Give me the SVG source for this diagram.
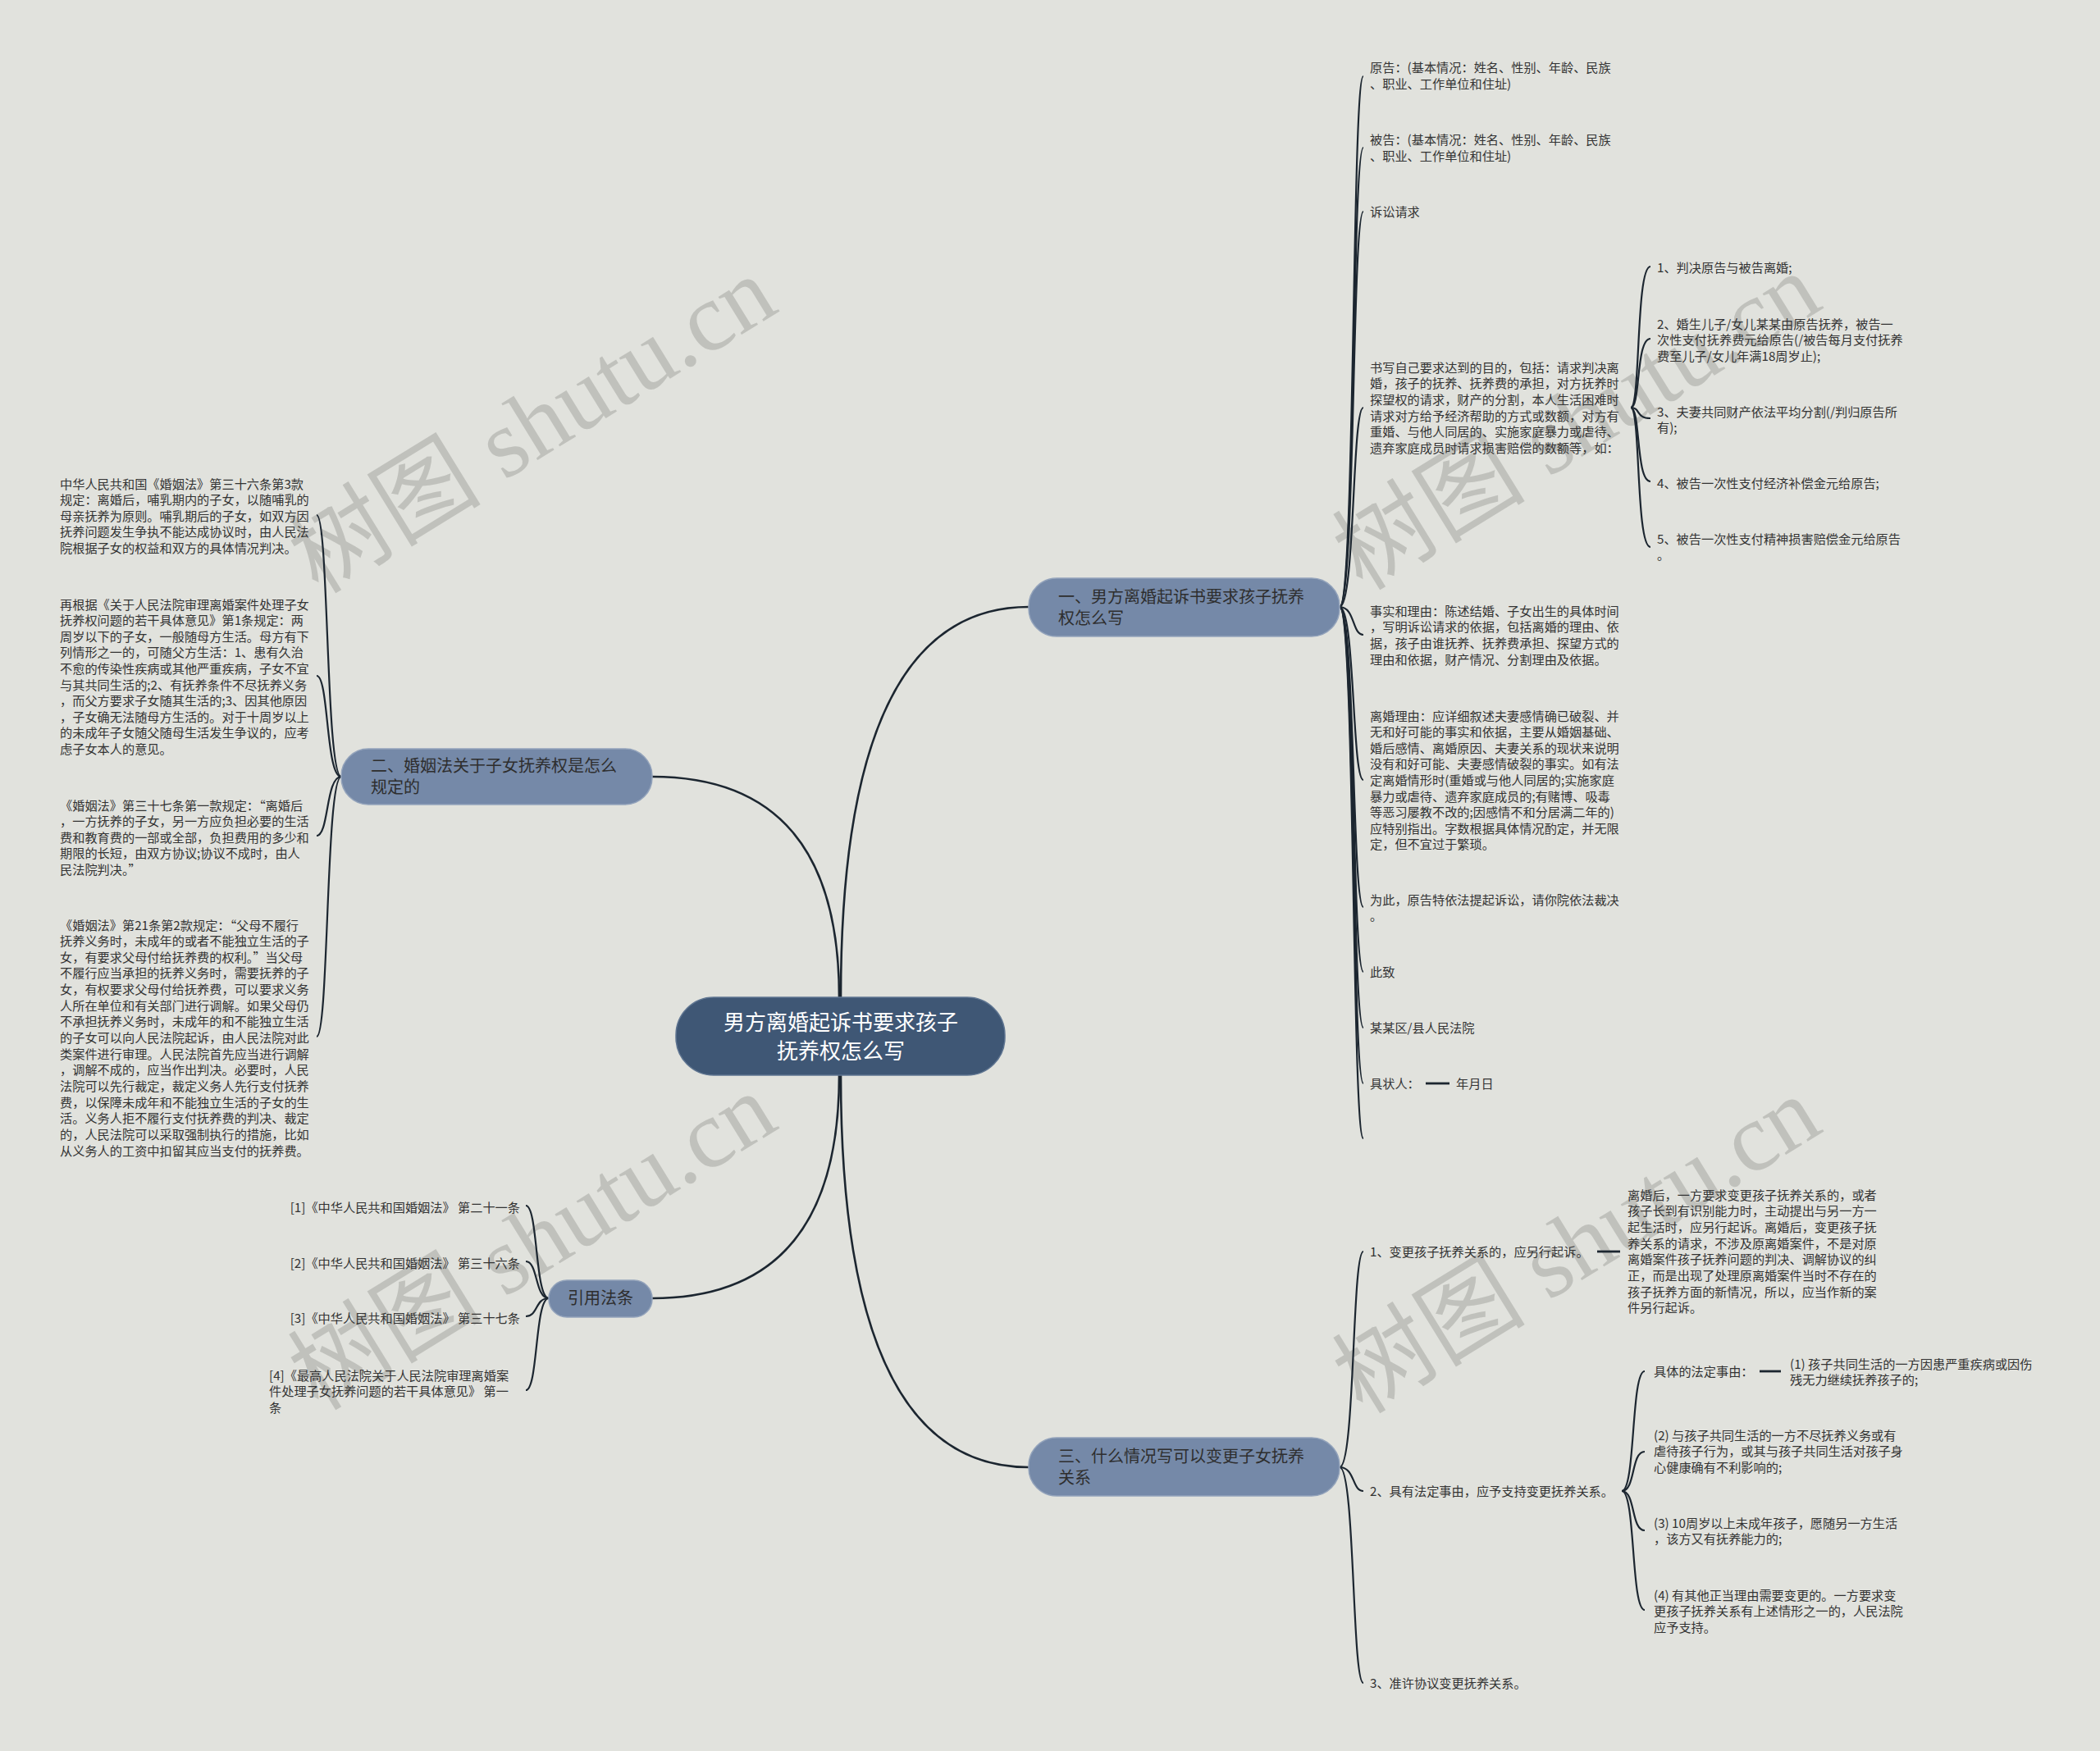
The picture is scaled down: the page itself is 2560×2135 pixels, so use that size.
<svg xmlns="http://www.w3.org/2000/svg" width="2560" height="2135" viewBox="0 0 2560 2135">
<style>
.bg{fill:#e1e2dd}
.wm{font-family:"Liberation Serif","Noto Sans CJK SC",serif;font-size:118px;fill:#b9bab5;opacity:0.8}
.root rect{fill:#3f5775;stroke:#5f7591;stroke-width:1.5}
.root text{font-family:"Noto Sans CJK SC","Liberation Sans",sans-serif;font-size:26px;fill:#ffffff;text-anchor:middle}
.br rect{fill:#7589a8;stroke:#93a3bb;stroke-width:1.5}
.br text{font-family:"Noto Sans CJK SC","Liberation Sans",sans-serif;font-size:20px;fill:#2e2e2e}
.lf text{font-family:"Noto Sans CJK SC","Liberation Sans",sans-serif;font-size:15.2px;fill:#333333}
.c1{fill:none;stroke:#1c2630;stroke-width:2.6}
.c2{fill:none;stroke:#1c2630;stroke-width:2.2}
.st{fill:none;stroke:#1c2630;stroke-width:2.8}
</style>
<rect class="bg" x="0" y="0" width="2560" height="2135"/>

<g id="watermarks">
<text class="wm" x="649" y="518" dy="40" text-anchor="middle" transform="rotate(-31.6 649 518)">树图 shutu.cn</text>
<text class="wm" x="1922" y="514" dy="40" text-anchor="middle" transform="rotate(-31.6 1922 514)">树图 shutu.cn</text>
<text class="wm" x="649" y="1514" dy="40" text-anchor="middle" transform="rotate(-31.6 649 1514)">树图 shutu.cn</text>
<text class="wm" x="1922" y="1518" dy="40" text-anchor="middle" transform="rotate(-31.6 1922 1518)">树图 shutu.cn</text>
</g>

<g id="connectors">
<path class="c1" d="M1025,1216 Q1025,740 1254,740"/>
<path class="c1" d="M1023,1216 Q1023,947 795,947"/>
<path class="c1" d="M1025,1311 Q1025,1789 1254,1789"/>
<path class="c1" d="M1023,1311 Q1023,1583 795,1583"/>
<path class="c2" d="M1633,740 C1652,740 1648,93 1662,93"/>
<path class="c2" d="M1633,740 C1652,740 1648,180 1662,180"/>
<path class="c2" d="M1633,740 C1652,740 1648,258 1662,258"/>
<path class="c2" d="M1633,740 C1652,740 1648,497 1662,497"/>
<path class="c2" d="M1633,740 C1652,740 1648,774 1662,774"/>
<path class="c2" d="M1633,740 C1652,740 1648,951 1662,951"/>
<path class="c2" d="M1633,740 C1652,740 1648,1106 1662,1106"/>
<path class="c2" d="M1633,740 C1652,740 1648,1185 1662,1185"/>
<path class="c2" d="M1633,740 C1652,740 1648,1253 1662,1253"/>
<path class="c2" d="M1633,740 C1652,740 1648,1321 1662,1321"/>
<path class="c2" d="M1633,740 C1652,740 1648,1388 1662,1388"/>
<path class="c2" d="M1988,497 C2000,497 1994,325 2012,325"/>
<path class="c2" d="M1988,497 C2000,497 1994,413 2012,413"/>
<path class="c2" d="M1988,497 C2000,497 1994,510 2012,510"/>
<path class="c2" d="M1988,497 C2000,497 1994,587 2012,587"/>
<path class="c2" d="M1988,497 C2000,497 1994,667 2012,667"/>
<path class="st" d="M1738,1321 L1767,1321"/>
<path class="c2" d="M416,947 C397,947 401,628 386,628"/>
<path class="c2" d="M416,947 C397,947 401,824 386,824"/>
<path class="c2" d="M416,947 C397,947 401,1019 386,1019"/>
<path class="c2" d="M416,947 C397,947 401,1264 386,1264"/>
<path class="c2" d="M669,1583 C652,1583 656,1470 641,1470"/>
<path class="c2" d="M669,1583 C652,1583 656,1538 641,1538"/>
<path class="c2" d="M669,1583 C652,1583 656,1605 641,1605"/>
<path class="c2" d="M669,1583 C652,1583 656,1695 641,1695"/>
<path class="c2" d="M1633,1789 C1652,1789 1648,1526 1662,1526"/>
<path class="c2" d="M1633,1789 C1652,1789 1648,1818 1662,1818"/>
<path class="c2" d="M1633,1789 C1652,1789 1648,2052 1662,2052"/>
<path class="st" d="M1947,1526 L1975,1526"/>
<path class="c2" d="M1977,1818 C1994,1818 1988,1672 2005,1672"/>
<path class="c2" d="M1977,1818 C1994,1818 1988,1770 2005,1770"/>
<path class="c2" d="M1977,1818 C1994,1818 1988,1866 2005,1866"/>
<path class="c2" d="M1977,1818 C1994,1818 1988,1963 2005,1963"/>
<path class="st" d="M2145,1672 L2171,1672"/>
</g>

<g id="root" class="root">
<rect x="824" y="1216" width="401" height="95" rx="46"/>
<text x="1025" y="1256">男方离婚起诉书要求孩子<tspan x="1025" dy="35">抚养权怎么写</tspan></text>
</g>

<g id="branch1" class="br">
<rect x="1254" y="705" width="379" height="71" rx="34"/>
<text x="1290" y="735">一、男方离婚起诉书要求孩子抚养<tspan x="1290" dy="26">权怎么写</tspan></text>
</g>

<g id="branch2" class="br">
<rect x="416" y="913" width="379" height="68" rx="33"/>
<text x="452" y="941">二、婚姻法关于子女抚养权是怎么<tspan x="452" dy="26">规定的</tspan></text>
</g>

<g id="branch3" class="br">
<rect x="1254" y="1753" width="379" height="71" rx="34"/>
<text x="1290" y="1783">三、什么情况写可以变更子女抚养<tspan x="1290" dy="26">关系</tspan></text>
</g>

<g id="branch4" class="br">
<rect x="669" y="1561" width="126" height="45" rx="22"/>
<text x="732" y="1590" text-anchor="middle">引用法条</text>
</g>

<g id="b1-plaintiff" class="lf">
<text x="1670" y="88">原告：(基本情况：姓名、性别、年龄、民族<tspan x="1670" dy="19.6">、职业、工作单位和住址)</tspan></text>
</g>
<g id="b1-defendant" class="lf">
<text x="1670" y="176">被告：(基本情况：姓名、性别、年龄、民族<tspan x="1670" dy="19.6">、职业、工作单位和住址)</tspan></text>
</g>
<g id="b1-claims" class="lf">
<text x="1670" y="264">诉讼请求</text>
</g>
<g id="b1-write" class="lf">
<text x="1670" y="453.5">书写自己要求达到的目的，包括：请求判决离<tspan x="1670" dy="19.7">婚，孩子的抚养、抚养费的承担，对方抚养时</tspan><tspan x="1670" dy="19.7">探望权的请求，财产的分割，本人生活困难时</tspan><tspan x="1670" dy="19.7">请求对方给予经济帮助的方式或数额，对方有</tspan><tspan x="1670" dy="19.7">重婚、与他人同居的、实施家庭暴力或虐待、</tspan><tspan x="1670" dy="19.7">遗弃家庭成员时请求损害赔偿的数额等，如：</tspan></text>
</g>
<g id="b1-list1" class="lf">
<text x="2020" y="332">1、判决原告与被告离婚;</text>
</g>
<g id="b1-list2" class="lf">
<text x="2020" y="400.5">2、婚生儿子/女儿某某由原告抚养，被告一<tspan x="2020" dy="19.6">次性支付抚养费元给原告(/被告每月支付抚养</tspan><tspan x="2020" dy="19.6">费至儿子/女儿年满18周岁止);</tspan></text>
</g>
<g id="b1-list3" class="lf">
<text x="2020" y="507.5">3、夫妻共同财产依法平均分割(/判归原告所<tspan x="2020" dy="19.6">有);</tspan></text>
</g>
<g id="b1-list4" class="lf">
<text x="2020" y="594.5">4、被告一次性支付经济补偿金元给原告;</text>
</g>
<g id="b1-list5" class="lf">
<text x="2020" y="662.5">5、被告一次性支付精神损害赔偿金元给原告<tspan x="2020" dy="19.6">。</tspan></text>
</g>
<g id="b1-facts" class="lf">
<text x="1670" y="750.5">事实和理由：陈述结婚、子女出生的具体时间<tspan x="1670" dy="19.7">，写明诉讼请求的依据，包括离婚的理由、依</tspan><tspan x="1670" dy="19.7">据，孩子由谁抚养、抚养费承担、探望方式的</tspan><tspan x="1670" dy="19.7">理由和依据，财产情况、分割理由及依据。</tspan></text>
</g>
<g id="b1-reason" class="lf">
<text x="1670" y="878.5">离婚理由：应详细叙述夫妻感情确已破裂、并<tspan x="1670" dy="19.6">无和好可能的事实和依据，主要从婚姻基础、</tspan><tspan x="1670" dy="19.6">婚后感情、离婚原因、夫妻关系的现状来说明</tspan><tspan x="1670" dy="19.6">没有和好可能、夫妻感情破裂的事实。如有法</tspan><tspan x="1670" dy="19.6">定离婚情形时(重婚或与他人同居的;实施家庭</tspan><tspan x="1670" dy="19.6">暴力或虐待、遗弃家庭成员的;有赌博、吸毒</tspan><tspan x="1670" dy="19.6">等恶习屡教不改的;因感情不和分居满二年的)</tspan><tspan x="1670" dy="19.6">应特别指出。字数根据具体情况酌定，并无限</tspan><tspan x="1670" dy="19.6">定，但不宜过于繁琐。</tspan></text>
</g>
<g id="b1-hence" class="lf">
<text x="1670" y="1102.5">为此，原告特依法提起诉讼，请你院依法裁决<tspan x="1670" dy="19.6">。</tspan></text>
</g>
<g id="b1-greet" class="lf">
<text x="1670" y="1190.5">此致</text>
</g>
<g id="b1-court" class="lf">
<text x="1670" y="1258.5">某某区/县人民法院</text>
</g>
<g id="b1-signer" class="lf">
<text x="1670" y="1326.5">具状人：</text>
</g>
<g id="b1-date" class="lf">
<text x="1775" y="1326.5">年月日</text>
</g>

<g id="b2-c1" class="lf">
<text x="73" y="595.5">中华人民共和国《婚姻法》第三十六条第3款<tspan x="73" dy="19.6">规定：离婚后，哺乳期内的子女，以随哺乳的</tspan><tspan x="73" dy="19.6">母亲抚养为原则。哺乳期后的子女，如双方因</tspan><tspan x="73" dy="19.6">抚养问题发生争执不能达成协议时，由人民法</tspan><tspan x="73" dy="19.6">院根据子女的权益和双方的具体情况判决。</tspan></text>
</g>
<g id="b2-c2" class="lf">
<text x="73" y="742.5">再根据《关于人民法院审理离婚案件处理子女<tspan x="73" dy="19.6">抚养权问题的若干具体意见》第1条规定：两</tspan><tspan x="73" dy="19.6">周岁以下的子女，一般随母方生活。母方有下</tspan><tspan x="73" dy="19.6">列情形之一的，可随父方生活：1、患有久治</tspan><tspan x="73" dy="19.6">不愈的传染性疾病或其他严重疾病，子女不宜</tspan><tspan x="73" dy="19.6">与其共同生活的;2、有抚养条件不尽抚养义务</tspan><tspan x="73" dy="19.6">，而父方要求子女随其生活的;3、因其他原因</tspan><tspan x="73" dy="19.6">，子女确无法随母方生活的。对于十周岁以上</tspan><tspan x="73" dy="19.6">的未成年子女随父随母生活发生争议的，应考</tspan><tspan x="73" dy="19.6">虑子女本人的意见。</tspan></text>
</g>
<g id="b2-c3" class="lf">
<text x="73" y="987.5">《婚姻法》第三十七条第一款规定：“离婚后<tspan x="73" dy="19.6">，一方抚养的子女，另一方应负担必要的生活</tspan><tspan x="73" dy="19.6">费和教育费的一部或全部，负担费用的多少和</tspan><tspan x="73" dy="19.6">期限的长短，由双方协议;协议不成时，由人</tspan><tspan x="73" dy="19.6">民法院判决。”</tspan></text>
</g>
<g id="b2-c4" class="lf">
<text x="73" y="1133.5">《婚姻法》第21条第2款规定：“父母不履行<tspan x="73" dy="19.65">抚养义务时，未成年的或者不能独立生活的子</tspan><tspan x="73" dy="19.65">女，有要求父母付给抚养费的权利。”当父母</tspan><tspan x="73" dy="19.65">不履行应当承担的抚养义务时，需要抚养的子</tspan><tspan x="73" dy="19.65">女，有权要求父母付给抚养费，可以要求义务</tspan><tspan x="73" dy="19.65">人所在单位和有关部门进行调解。如果父母仍</tspan><tspan x="73" dy="19.65">不承担抚养义务时，未成年的和不能独立生活</tspan><tspan x="73" dy="19.65">的子女可以向人民法院起诉，由人民法院对此</tspan><tspan x="73" dy="19.65">类案件进行审理。人民法院首先应当进行调解</tspan><tspan x="73" dy="19.65">，调解不成的，应当作出判决。必要时，人民</tspan><tspan x="73" dy="19.65">法院可以先行裁定，裁定义务人先行支付抚养</tspan><tspan x="73" dy="19.65">费，以保障未成年和不能独立生活的子女的生</tspan><tspan x="73" dy="19.65">活。义务人拒不履行支付抚养费的判决、裁定</tspan><tspan x="73" dy="19.65">的，人民法院可以采取强制执行的措施，比如</tspan><tspan x="73" dy="19.65">从义务人的工资中扣留其应当支付的抚养费。</tspan></text>
</g>

<g id="b4-c1" class="lf">
<text x="634" y="1477.5" text-anchor="end">[1]《中华人民共和国婚姻法》 第二十一条</text>
</g>
<g id="b4-c2" class="lf">
<text x="634" y="1545.5" text-anchor="end">[2]《中华人民共和国婚姻法》 第三十六条</text>
</g>
<g id="b4-c3" class="lf">
<text x="634" y="1612.5" text-anchor="end">[3]《中华人民共和国婚姻法》 第三十七条</text>
</g>
<g id="b4-c4" class="lf">
<text x="328" y="1682.5">[4]《最高人民法院关于人民法院审理离婚案<tspan x="328" dy="19.6">件处理子女抚养问题的若干具体意见》 第一</tspan><tspan x="328" dy="19.6">条</tspan></text>
</g>

<g id="b3-c1" class="lf">
<text x="1670" y="1531.5">1、变更孩子抚养关系的，应另行起诉。</text>
</g>
<g id="b3-c1-detail" class="lf">
<text x="1984" y="1462.5">离婚后，一方要求变更孩子抚养关系的，或者<tspan x="1984" dy="19.7">孩子长到有识别能力时，主动提出与另一方一</tspan><tspan x="1984" dy="19.7">起生活时，应另行起诉。离婚后，变更孩子抚</tspan><tspan x="1984" dy="19.7">养关系的请求，不涉及原离婚案件，不是对原</tspan><tspan x="1984" dy="19.7">离婚案件孩子抚养问题的判决、调解协议的纠</tspan><tspan x="1984" dy="19.7">正，而是出现了处理原离婚案件当时不存在的</tspan><tspan x="1984" dy="19.7">孩子抚养方面的新情况，所以，应当作新的案</tspan><tspan x="1984" dy="19.7">件另行起诉。</tspan></text>
</g>
<g id="b3-c2" class="lf">
<text x="1670" y="1824">2、具有法定事由，应予支持变更抚养关系。</text>
</g>
<g id="b3-c2-a" class="lf">
<text x="2016" y="1678">具体的法定事由：</text>
</g>
<g id="b3-c2-a1" class="lf">
<text x="2182" y="1668.5">(1) 孩子共同生活的一方因患严重疾病或因伤<tspan x="2182" dy="19.6">残无力继续抚养孩子的;</tspan></text>
</g>
<g id="b3-c2-b" class="lf">
<text x="2016" y="1755.5">(2) 与孩子共同生活的一方不尽抚养义务或有<tspan x="2016" dy="19.6">虐待孩子行为，或其与孩子共同生活对孩子身</tspan><tspan x="2016" dy="19.6">心健康确有不利影响的;</tspan></text>
</g>
<g id="b3-c2-c" class="lf">
<text x="2016" y="1862.5">(3) 10周岁以上未成年孩子，愿随另一方生活<tspan x="2016" dy="19.6">，该方又有抚养能力的;</tspan></text>
</g>
<g id="b3-c2-d" class="lf">
<text x="2016" y="1950.5">(4) 有其他正当理由需要变更的。一方要求变<tspan x="2016" dy="19.6">更孩子抚养关系有上述情形之一的，人民法院</tspan><tspan x="2016" dy="19.6">应予支持。</tspan></text>
</g>
<g id="b3-c3" class="lf">
<text x="1670" y="2058">3、准许协议变更抚养关系。</text>
</g>
</svg>
